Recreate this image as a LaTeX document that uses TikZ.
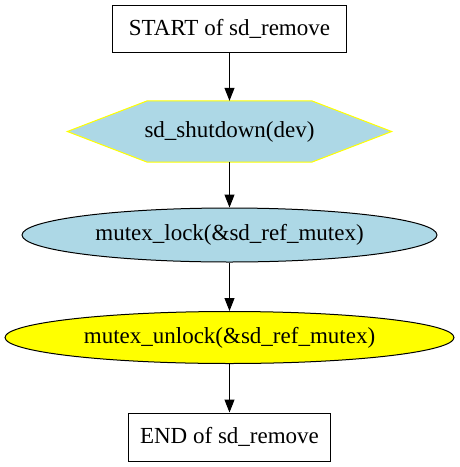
\documentclass[tikz,border=0pt]{standalone}
\usepackage{fontspec}
\setmainfont{Liberation Serif}
\usetikzlibrary{arrows.meta,shapes.geometric}
\definecolor{lblue}{HTML}{ADD8E6}
\definecolor{yel}{HTML}{FFFF00}
\begin{document}
\begin{tikzpicture}[x=1pt,y=1pt,
  every node/.style={font=\fontsize{23}{27}\selectfont, inner sep=0pt},
  boxnode/.style={draw=black, line width=1pt, fill=white, rectangle},
  ellnode/.style={draw=black, line width=1pt, ellipse},
  conn/.style={line width=1pt, -{Triangle[length=13pt,width=10pt]}}]
\useasboundingbox (0,0) rectangle (459,-467);
\node[boxnode, minimum width=234pt, minimum height=47pt] (start) at (229.5,-29) {START of sd\_remove};
\node[minimum width=324pt, minimum height=61pt] (hex) at (229.5,-131.5) {};
\fill[lblue] (hex.west) -- ([xshift=80pt]hex.north west) -- ([xshift=-80pt]hex.north east) -- (hex.east) -- ([xshift=-80pt]hex.south east) -- ([xshift=80pt]hex.south west) -- cycle;
\draw[yel, line width=1pt, line join=miter] (hex.west) -- ([xshift=80pt]hex.north west) -- ([xshift=-80pt]hex.north east) -- (hex.east) -- ([xshift=-80pt]hex.south east) -- ([xshift=80pt]hex.south west) -- cycle;
\node (hextext) at (hex.center) {sd\_shutdown(dev)};
\node[ellnode, fill=lblue, minimum width=415pt, minimum height=54pt] (lock) at (229.5,-235) {mutex\_lock(\&sd\_ref\_mutex)};
\node[ellnode, fill=yel, minimum width=449pt, minimum height=52pt] (unlock) at (229.5,-337.5) {mutex\_unlock(\&sd\_ref\_mutex)};
\node[boxnode, minimum width=202pt, minimum height=48pt] (end) at (229.5,-437) {END of sd\_remove};
\draw[conn] (start) -- (hex);
\draw[conn] (hex) -- (lock);
\draw[conn] (lock) -- (unlock);
\draw[conn] (unlock) -- (end);
\end{tikzpicture}
\end{document}
